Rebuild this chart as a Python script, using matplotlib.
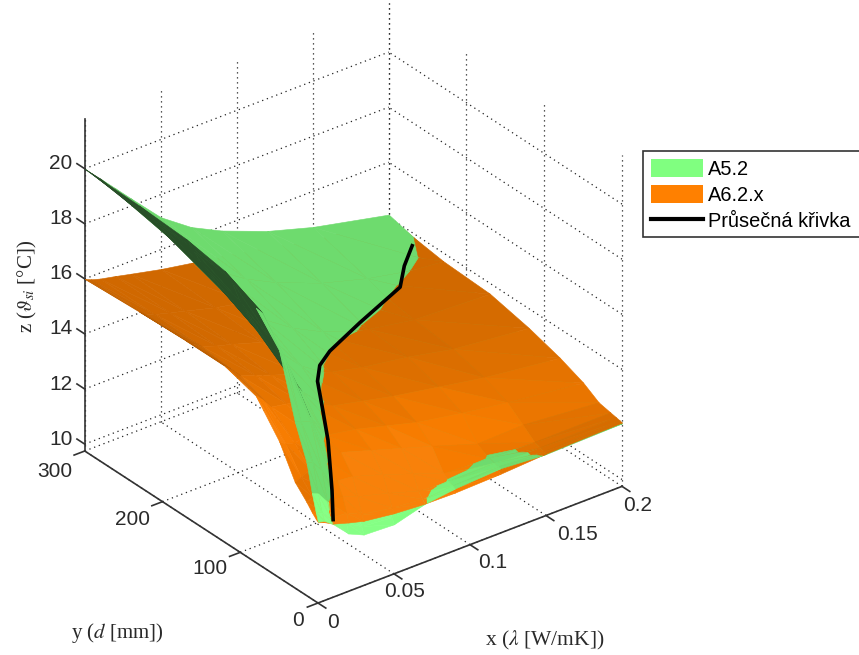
import numpy as np
import matplotlib
matplotlib.use('Agg')
import matplotlib.pyplot as plt
from matplotlib.lines import Line2D
from matplotlib.patches import Patch, Rectangle
from mpl_toolkits.mplot3d import proj3d
from mpl_toolkits.mplot3d.art3d import Poly3DCollection

# Data
x_nodes = [0, .004, .01, .02, .03, .05, .07, .09, .12, .15, .2]
y_nodes = [0, 3, 8, 15, 30, 50, 80, 120, 170, 230, 300]

# rows follow x_nodes, columns follow y_nodes
z_green = [
    [12.70, 13.00, 13.60, 14.60, 15.80, 18.00, 19.00, 19.60, 19.85, 19.95, 20.00],
    [12.65, 12.90, 13.50, 14.50, 15.70, 17.60, 18.75, 19.20, 19.43, 19.57, 19.77],
    [12.40, 12.55, 13.08, 14.10, 15.61, 16.73, 17.63, 18.27, 18.75, 19.10, 19.44],
    [11.85, 12.18, 12.50, 13.00, 14.10, 15.20, 16.25, 17.10, 17.80, 18.35, 18.87],
    [11.60, 11.85, 12.25, 12.65, 13.33, 14.31, 15.35, 16.25, 16.98, 17.70, 18.30],
    [11.55, 11.75, 12.05, 12.35, 12.80, 13.33, 14.23, 15.11, 15.89, 16.55, 17.18],
    [11.86, 11.98, 12.14, 12.27, 12.54, 12.97, 13.57, 14.37, 15.14, 15.82, 16.40],
    [12.00, 12.06, 12.14, 12.23, 12.42, 12.75, 13.20, 13.86, 14.58, 15.26, 15.85],
    [12.10, 12.12, 12.16, 12.22, 12.32, 12.52, 12.85, 13.33, 13.99, 14.61, 15.20],
    [11.98, 12.00, 12.05, 12.12, 12.25, 12.42, 12.65, 13.00, 13.55, 14.14, 14.71],
    [12.04, 12.05, 12.07, 12.09, 12.18, 12.28, 12.50, 12.80, 13.15, 13.58, 14.10],
]
z_orange = [
    [12.68, 12.75, 12.90, 13.15, 13.60, 14.70, 15.80, 16.15, 16.15, 16.10, 16.00],
    [12.60, 12.72, 12.95, 13.25, 13.70, 14.55, 15.60, 15.95, 15.95, 15.92, 15.90],
    [12.42, 12.58, 13.05, 13.50, 13.85, 14.45, 15.20, 15.60, 15.75, 15.80, 15.80],
    [12.25, 12.55, 13.05, 13.50, 14.00, 14.60, 15.10, 15.40, 15.55, 15.65, 15.68],
    [12.10, 12.30, 12.85, 13.45, 14.05, 14.30, 14.95, 15.20, 15.40, 15.50, 15.55],
    [11.95, 12.10, 12.55, 13.10, 13.70, 14.10, 14.40, 14.81, 15.05, 15.20, 15.30],
    [11.87, 12.00, 12.20, 12.70, 13.35, 13.80, 14.15, 14.47, 14.74, 14.98, 15.10],
    [11.85, 11.95, 12.10, 12.30, 13.00, 13.50, 13.90, 14.21, 14.43, 14.75, 14.92],
    [11.90, 11.98, 12.08, 12.18, 12.45, 13.20, 13.60, 13.95, 14.04, 14.26, 14.60],
    [12.00, 12.03, 12.08, 12.15, 12.50, 12.95, 13.30, 13.60, 13.75, 13.99, 14.21],
    [12.07, 12.09, 12.12, 12.16, 12.25, 12.60, 12.95, 13.30, 13.62, 13.70, 14.00],
]

# intersection curve
curve_x = [.01, .0179, .026, .0415, .058, .0651, .085, .117, .163, .177, .2]
curve_y = [0, 17, 38, 75, 114, 125, 151, 175, 213, 235, 269]
curve_z = [12.5, 13.16, 14.42, 14.5, 14.48, 14.7, 14.32, 14.23, 13.85, 13.92, 13.6]

x_ticks = [0, .05, .1, .15, .2]
y_ticks = [0, 100, 200, 300]
z_ticks = [10, 12, 14, 16, 18, 20]
x_tick_labels = ['0', '0.05', '0.1', '0.15', '0.2']
y_tick_labels = ['0', '100', '200', '300']
z_tick_labels = ['10', '12', '14', '16', '18', '20']
z_low, z_high = 9.75, 21.8

plt.rcParams['font.family'] = ['Liberation Sans', 'DejaVu Sans']
plt.rcParams['mathtext.fontset'] = 'stix'

GREEN = np.array([128, 255, 128]) / 255
ORANGE = np.array([255, 128, 0]) / 255
AXIS_COL = '#333333'
TEXT_COL = '#2a2a2a'
VIEW = np.array([-0.528, -0.687, 0.5])
LAMP = np.array([0.3, -0.76, 0.58])

fig = plt.figure(figsize=(8.59, 6.55), dpi=100)
ax = fig.add_axes([0.1, 0.1, 0.7, 0.7], projection='3d', computed_zorder=False)
ax.set_proj_type('ortho')
ax.view_init(elev=30, azim=-127.5)
ax.set_box_aspect((1, 1, 1))
ax.set_xlim(0, .2)
ax.set_ylim(0, 300)
ax.set_zlim(z_low, z_high)
ax.set_axis_off()
ax.patch.set_alpha(0)

# box grid: floor and the two back walls
grid = dict(color='#222222', lw=0.9, ls=(0, (1, 3)), zorder=1)
for t in x_ticks:
    ax.plot([t, t], [0, 300], [z_low, z_low], **grid)
    ax.plot([t, t], [300, 300], [z_low, z_high], **grid)
for t in y_ticks:
    ax.plot([0, .2], [t, t], [z_low, z_low], **grid)
    ax.plot([.2, .2], [t, t], [z_low, z_high], **grid)
for t in z_ticks:
    ax.plot([0, .2], [300, 300], [t, t], **grid)
    ax.plot([.2, .2], [0, 300], [t, t], **grid)

# axis lines and tick marks
line = dict(color=AXIS_COL, lw=1.2, zorder=2)
ax.plot([0, .2], [0, 0], [z_low, z_low], **line)
ax.plot([0, 0], [0, 300], [z_low, z_low], **line)
ax.plot([0, 0], [300, 300], [z_low, z_high], **line)
for t in x_ticks:
    ax.plot([t, t], [0, -10], [z_low, z_low], **line)
for t in y_ticks:
    ax.plot([0, -.007], [t, t], [z_low, z_low], **line)
for t in z_ticks:
    ax.plot([0, 0], [300, 310], [t, t], **line)


def light(zvals, d):
    # dot product of the node normals with direction d, in box scaled units
    xs = np.array(x_nodes) / .2
    ys = np.array(y_nodes) / 300
    z = (np.array(zvals) - z_low) / (z_high - z_low)
    zx, zy = np.gradient(z, xs, ys)
    return (-zx * d[0] - zy * d[1] + d[2]) / np.sqrt(zx ** 2 + zy ** 2 + 1)


def colour(f, l, base, cap):
    if f < 0.05:
        return base * 0.31
    k = 0.84 - max(0.3 - f, 0) * 0.4 + max(l - 0.66, 0) * 0.6
    k = min(k, cap)
    return np.clip(base * min(k, 1) + (1 - base) * max(k - 1, 0) * 2, 0, 1)


def cut(tri):
    # cut one triangle along the line where both surfaces have the same height
    d = [v[2] - v[3] for v in tri]
    if all(a >= 0 for a in d) or all(a <= 0 for a in d):
        return [tri]
    up, dn = [], []
    for a in range(3):
        b = (a + 1) % 3
        (up if d[a] > 0 else dn).append(tri[a])
        if d[a] * d[b] < 0:
            p = tri[a] + (tri[b] - tri[a]) * d[a] / (d[a] - d[b])
            up.append(p)
            dn.append(p)
    return [up, dn]


xs = np.array(x_nodes)
ys = np.array(y_nodes)
zg = np.array(z_green)
zo = np.array(z_orange)
fg, fo = light(z_green, VIEW), light(z_orange, VIEW)
lg, lo = light(z_green, LAMP), light(z_orange, LAMP)
node = lambda a, b: np.array([xs[a], ys[b], zg[a, b], zo[a, b], fg[a, b], fo[a, b], lg[a, b], lo[a, b]])

# far cells first, lower surface first inside a cell
zo_count = 0
for i in range(len(xs) - 2, -1, -1):
    for j in range(len(ys) - 2, -1, -1):
        far = [node(i + 1, j), node(i + 1, j + 1), node(i, j + 1)]
        near = [node(i, j), node(i + 1, j), node(i, j + 1)]
        for tri in (far, near):
            pieces = cut(tri)
            pieces.sort(key=lambda pc: -np.mean([p[0] / .2 * 0.53 + p[1] / 300 * 0.69 for p in pc]))
            for pc in pieces:
                pc = np.array(pc)
                green_top = pc[:, 2].mean() >= pc[:, 3].mean()
                order = [3, 2] if green_top else [2, 3]
                for col in order:
                    if col == 2:
                        # only the low lobe of the green sheet gets the bright tone
                        base, cap = GREEN, (1.04 if pc[:, 1].mean() < 10 else 0.86)
                    else:
                        base, cap = ORANGE * 0.97, 1.02
                    c = colour(pc[:, col + 2].mean(), pc[:, col + 4].mean(), base, cap)
                    poly = Poly3DCollection([np.c_[pc[:, 0], pc[:, 1], pc[:, col]]], facecolors=[c],
                                            edgecolors=[c], linewidths=0.4, zorder=3 + zo_count * 1e-4)
                    ax.add_collection3d(poly)
                    zo_count += 1

ax.plot(curve_x, curve_y, curve_z, color='black', lw=2.6, zorder=4.5, solid_capstyle='butt')


def project(x, y, z):
    u, v, _ = proj3d.proj_transform(x, y, z, ax.get_proj())
    return ax.transData.transform((u, v))


# fit the box onto its place in the figure
W, H = fig.canvas.get_width_height()
for _ in range(2):
    fig.canvas.draw()
    p0 = project(0, 0, z_low)
    p1 = project(.2, 0, z_low)
    s = 304 / (p1[0] - p0[0])
    bb = ax.get_window_extent()
    left = 318 - s * (p0[0] - bb.x0)
    bottom = (H - 603) - s * (p0[1] - bb.y0)
    ax.set_position([left / W, bottom / H, bb.width * s / W, bb.height * s / H])
fig.canvas.draw()


def label(x, y, z, dx, dy, txt):
    p = project(x, y, z)
    fig.text((p[0] + dx) / W, (p[1] - dy) / H, txt, fontsize=15, color=TEXT_COL,
             ha='center', va='center')


x_offs = [(15, 19), (11, 18), (23, 18), (31, 19), (16, 19)]
for t, s_, o in zip(x_ticks, x_tick_labels, x_offs):
    label(t, 0, z_low, o[0], o[1], s_)
y_offs = [(-20, 17), (-30, 16), (-30, 18), (-30, 20)]
for t, s_, o in zip(y_ticks, y_tick_labels, y_offs):
    label(0, t, z_low, o[0], o[1], s_)
for t, s_ in zip(z_ticks, z_tick_labels):
    p = project(0, 300, t)
    fig.text((p[0] - 12) / W, (p[1] + 5) / H, s_, fontsize=15, color=TEXT_COL, ha='right', va='center')

serif = ['Liberation Serif', 'DejaVu Serif']
fig.text(71 / W, 1 - 633 / H, 'y ($d$ [mm])', fontsize=15, family=serif, color=TEXT_COL, ha='left', va='center')
fig.text(485 / W, 1 - 640 / H, r'x ($\lambda$ [W/mK])', fontsize=15.5, family=serif, color=TEXT_COL, ha='left', va='center')
fig.text(27 / W, 1 - 286 / H, r'z ($\vartheta_{si}$ [°C])', fontsize=15, family=serif, color=TEXT_COL,
         rotation=90, ha='center', va='center')

# legend box runs past the right edge of the figure
fig.add_artist(Rectangle((643 / W, 1 - 237 / H), 240 / W, 86 / H, transform=fig.transFigure,
                         facecolor='white', edgecolor='#333333', lw=1.2, zorder=5))
handles = [Patch(facecolor=GREEN, label='A5.2'),
           Patch(facecolor=ORANGE, label='A6.2.x'),
           Line2D([0], [0], color='black', lw=3, label='Průsečná křivka')]
leg = fig.legend(handles=handles, loc='upper left', bbox_to_anchor=(643 / W, 1 - 151 / H),
                 bbox_transform=fig.transFigure, borderaxespad=0, fontsize=14.4, frameon=False,
                 handlelength=2.6, handleheight=1.0, labelspacing=0.32, handletextpad=0.25, borderpad=0.4)
leg.set_zorder(6)

plt.savefig('out.png', dpi=100)
